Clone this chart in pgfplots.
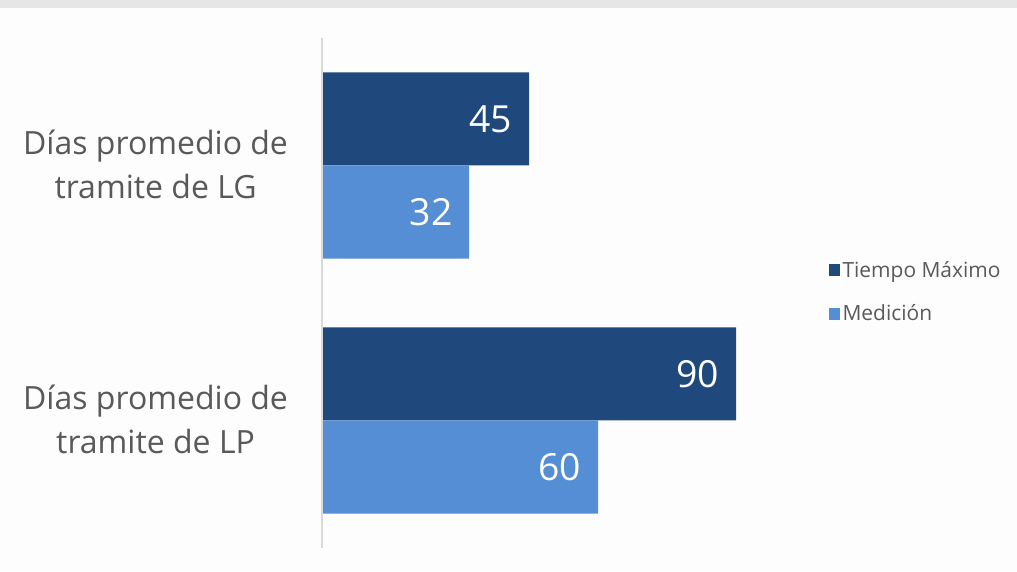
\documentclass[border=0pt]{standalone}
\usepackage{fontspec}
\setmainfont{Open Sans}
\usepackage{pgfplots}
\pgfplotsset{compat=1.18}
\definecolor{darkblue}{HTML}{1F497D}
\definecolor{lightblue}{HTML}{558ED5}
\definecolor{bg}{HTML}{FDFDFD}
\definecolor{band}{HTML}{E6E6E6}
\definecolor{axisgray}{HTML}{D9D9D9}
\definecolor{txt}{HTML}{595959}

\begin{document}
\begin{tikzpicture}
% page background and the grey strip at the top
\fill[bg] (0,0) rectangle (762.75pt,428.25pt);
\fill[band] (0,422.25pt) rectangle (762.75pt,428.25pt);
\begin{axis}[
    at={(241.5pt,17.25pt)}, anchor=south west,
    scale only axis, width=345pt, height=382.5pt,
    xmin=0, xmax=100, ymin=-0.5, ymax=1.5,
    xbar, bar width=0.365,
    axis line style={draw=none},
    xtick=\empty,
    ytick={0,1},
    yticklabels={{Días promedio de\\tramite de LP},{Días promedio de\\tramite de LG}},
    yticklabel style={align=center, font=\fontsize{24}{33}\selectfont, text=txt, xshift=-22pt, yshift=0.5pt},
    major tick length=0pt,
    /pgf/number format/assume math mode=true,
    nodes near coords,
    every node near coord/.append style={anchor=east, text=white,
        font=\fontsize{28}{32}\selectfont, xshift=-9pt},
    legend style={at={(axis description cs:1.092,0.502)}, anchor=west,
        draw=none, fill=none, font=\fontsize{15.7}{18}\selectfont, text=txt,
        row sep=15pt, legend cell align=left},
    legend image code/.code={\fill[#1, draw=none] (-2pt,-4.5pt) rectangle (6.5pt,4.5pt);},
    clip=false,
]
\addplot[fill=darkblue, draw=none, bar shift=0.1825] coordinates {(90,0) (45,1)};
\addlegendentry{Tiempo Máximo}
\addplot[fill=lightblue, draw=none, bar shift=-0.1825] coordinates {(60,0) (32,1)};
\addlegendentry{Medición}
\draw[axisgray, line width=1.5pt] (axis cs:0,-0.5) -- (axis cs:0,1.5);
\end{axis}
\end{tikzpicture}
\end{document}
